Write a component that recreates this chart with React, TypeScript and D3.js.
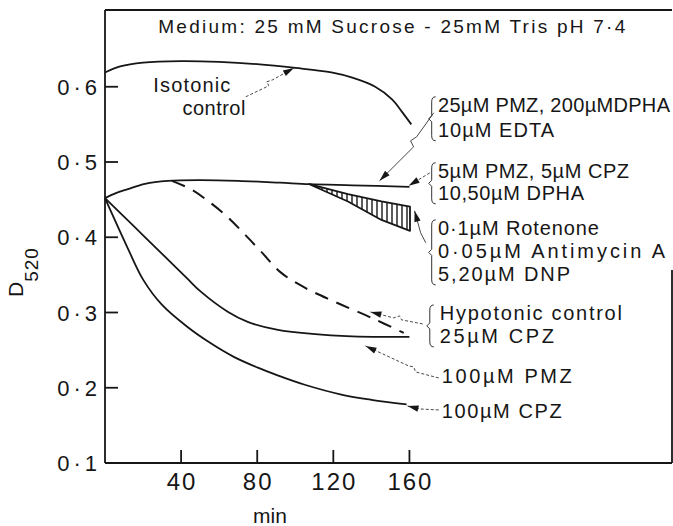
import React from 'react';
import * as d3 from 'd3';

// absorbance D520 against time (min)
const isotonic: [number, number][] = [[0, 0.619], [8, 0.627], [20, 0.632], [40, 0.634], [60, 0.633], [80, 0.630], [100, 0.625], [119, 0.619], [130, 0.612], [142, 0.600], [151, 0.583], [156, 0.567], [161, 0.550]];
const plateau: [number, number][] = [[0, 0.452], [6, 0.459], [12, 0.464], [21, 0.471], [33, 0.475], [50, 0.476], [70, 0.475], [92, 0.4725], [107.4, 0.4705], [130, 0.469], [160, 0.467]];
const hatchTop: [number, number][] = [[107.4, 0.4705], [127.7, 0.4573], [145.3, 0.4476], [160.3, 0.4408]];
const hatchBottom: [number, number][] = [[107.4, 0.4705], [127.7, 0.4475], [145.3, 0.423], [160.3, 0.4085]];
const hypotonicDashed: [number, number][] = [[35.2, 0.475], [45.8, 0.463], [54.5, 0.4475], [64, 0.428], [73, 0.405], [82, 0.381], [92.5, 0.353], [105, 0.333], [121, 0.314], [140, 0.293], [157, 0.273]];
const pmz100: [number, number][] = [[0, 0.452], [15, 0.415], [30, 0.378], [43.3, 0.345], [50.2, 0.328], [64.5, 0.301], [75, 0.2875], [90.9, 0.277], [124.2, 0.269], [160, 0.2676]];
const cpz100: [number, number][] = [[0, 0.452], [11.5, 0.388], [20.2, 0.343], [30, 0.31], [43.2, 0.281], [55, 0.26], [67.7, 0.241], [80, 0.227], [90.7, 0.2165], [105, 0.204], [124.2, 0.191], [140, 0.184], [158.5, 0.178]];

const yTicks = [0.1, 0.2, 0.3, 0.4, 0.5, 0.6];
const xTicks = [40, 80, 120, 160];

const title = 'Medium: 25 mM Sucrose - 25mM Tris pH 7·4';

// labels: text, time, D (baseline), width in px
const labels: [string, number, number, number][] = [
  ['25µM PMZ, 200µMDPHA', 175, 0.567, 232],
  ['10µM EDTA', 175, 0.5335, 116],
  ['5µM PMZ, 5µM CPZ', 175, 0.479, 191],
  ['10,50µM DPHA', 175, 0.4497, 146],
  ['0·1µM Rotenone', 175, 0.4032, 161],
  ['0·05µM Antimycin  A', 175, 0.3726, 227],
  ['5,20µM DNP', 175, 0.342, 132],
  ['Hypotonic control', 176, 0.2902, 182],
  ['25µM CPZ', 176, 0.2596, 114],
  ['100µM PMZ', 177, 0.2064, 130],
  ['100µM CPZ', 177, 0.1598, 120],
  ['Isotonic', 25.4, 0.5934, 77],
  ['control', 40.7, 0.5628, 63],
];

// braces: time, top D, bottom D
const braces: [number, number, number][] = [
  [171.7, 0.5867, 0.5282],
  [171.7, 0.499, 0.4444],
  [171.7, 0.4231, 0.3367],
  [170.7, 0.31, 0.2543],
];

// arrows: points from tail to tip, dashed?
const arrows: { pts: [number, number][]; dashed: boolean }[] = [
  { pts: [[74, 0.5867], [86.1, 0.6013], [85, 0.6066], [88.2, 0.6093], [99.3, 0.625]], dashed: true },
  { pts: [[172.8, 0.5654], [163.8, 0.5335], [160.6, 0.5282], [162.2, 0.5202], [144.3, 0.475]], dashed: false },
  { pts: [[170.7, 0.4856], [159.6, 0.4684]], dashed: true },
  { pts: [[168.6, 0.3926], [165.9, 0.4059], [162.7, 0.4351]], dashed: false },
  { pts: [[167, 0.2848], [155.9, 0.2902], [154.8, 0.2955], [151.7, 0.2928], [139.5, 0.3008]], dashed: true },
  { pts: [[175.4, 0.213], [163.3, 0.221], [162.2, 0.2277], [159.6, 0.229], [136.9, 0.2556]], dashed: true },
  { pts: [[175.4, 0.1705], [165.4, 0.1718], [159.0, 0.1758]], dashed: true },
];

const W = 673;
const H = 526;
const INK = '#161616';
const FONT = '"Liberation Sans", Arial, sans-serif';

export default function App() {
  const x = d3.scaleLinear().domain([0, 298]).range([105, 672]);
  const y = d3.scaleLinear().domain([0.1, 0.702]).range([463, 10]);

  const line = d3.line<[number, number]>()
    .x(d => x(d[0]))
    .y(d => y(d[1]))
    .curve(d3.curveCatmullRom.alpha(0.5));
  const straight = d3.line<[number, number]>().x(d => x(d[0])).y(d => y(d[1]));

  const wedge = straight([...hatchTop, ...hatchBottom.slice().reverse()]) + 'Z';
  const fmt = (v: number) => d3.format('.1f')(v).replace('.', '·');

  const head = (pts: [number, number][]) => {
    const [ax, ay] = pts[pts.length - 2];
    const [bx, by] = pts[pts.length - 1];
    const x0 = x(ax), y0 = y(ay), x1 = x(bx), y1 = y(by);
    const len = Math.hypot(x1 - x0, y1 - y0);
    const ux = (x1 - x0) / len, uy = (y1 - y0) / len;
    const L = 11, w = 3.2;
    const bxp = x1 - ux * L, byp = y1 - uy * L;
    return `M${x1},${y1}L${bxp - uy * w},${byp + ux * w}L${bxp + uy * w},${byp - ux * w}Z`;
  };

  const brace = (t: number, d0: number, d1: number) => {
    const bx = x(t), top = y(d0), bot = y(d1), mid = (top + bot) / 2;
    return `M${bx + 4},${top} Q${bx},${top} ${bx},${top + 5} L${bx},${mid - 3} L${bx - 3},${mid} L${bx},${mid + 3} L${bx},${bot - 5} Q${bx},${bot} ${bx + 4},${bot}`;
  };

  return (
    <svg width={W} height={H} style={{ position: 'absolute', left: 0, top: 0, background: '#fff' }} fontFamily={FONT}>
      <defs>
        <pattern id="hatch" patternUnits="userSpaceOnUse" width={5} height={10}>
          <line x1={2} y1={0} x2={2} y2={10} stroke={INK} strokeWidth={1.4} />
        </pattern>
      </defs>

      {/* frame */}
      <g stroke={INK} strokeWidth={1.8} fill="none">
        <line x1={105} y1={10} x2={672} y2={10} />
        <line x1={105} y1={10} x2={105} y2={463} />
        <line x1={105} y1={463} x2={672} y2={463} />
        <line x1={672} y1={270} x2={672} y2={463} />
      </g>

      {/* y axis */}
      {yTicks.map(v => (
        <g key={v}>
          {v > 0.1 && <line x1={105} x2={118} y1={y(v)} y2={y(v)} stroke={INK} strokeWidth={1.8} />}
          <text x={101} y={y(v) + 8} textAnchor="end" fontSize={22} letterSpacing={4} fill={INK}>{fmt(v)}</text>
        </g>
      ))}
      {/* x axis */}
      {xTicks.map(v => (
        <g key={v}>
          <line x1={x(v)} x2={x(v)} y1={463} y2={450} stroke={INK} strokeWidth={1.8} />
          <text x={x(v) + 1} y={490} textAnchor="middle" fontSize={24} letterSpacing={2} fill={INK}>{v}</text>
        </g>
      ))}
      <text x={270} y={523} textAnchor="middle" fontSize={21} fill={INK}>min</text>
      <text transform="translate(23,297) rotate(-90)" fontSize={21} fill={INK}>
        D<tspan dy={15} fontSize={19} letterSpacing={1}>520</tspan>
      </text>

      <text x={x(28)} y={y(0.672)} fontSize={19} textLength={467} lengthAdjust="spacing" fill={INK}>{title}</text>

      {/* curves */}
      <g fill="none" stroke={INK} strokeWidth={1.8}>
        <path d={line(isotonic) || ''} />
        <path d={line(plateau) || ''} />
        <path d={line(pmz100) || ''} />
        <path d={line(cpz100) || ''} />
        <path d={line(hypotonicDashed) || ''} strokeDasharray="14,9" strokeWidth={2} />
      </g>
      <path d={wedge} fill="url(#hatch)" stroke={INK} strokeWidth={1.8} strokeLinejoin="round" />

      {/* annotations */}
      {arrows.map((a, i) => (
        <g key={i}>
          <path d={straight(a.pts) || ''} fill="none" stroke="#333" strokeWidth={0.9} strokeDasharray={a.dashed ? '3,2' : undefined} />
          <path d={head(a.pts)} fill={INK} />
        </g>
      ))}
      {braces.map((b, i) => (
        <path key={i} d={brace(b[0], b[1], b[2])} fill="none" stroke="#333" strokeWidth={1} />
      ))}
      {labels.map(([s, t, d, w]) => (
        <text key={s} x={x(t)} y={y(d)} fontSize={20} textLength={w} lengthAdjust="spacing" fill={INK}>{s}</text>
      ))}
    </svg>
  );
}
